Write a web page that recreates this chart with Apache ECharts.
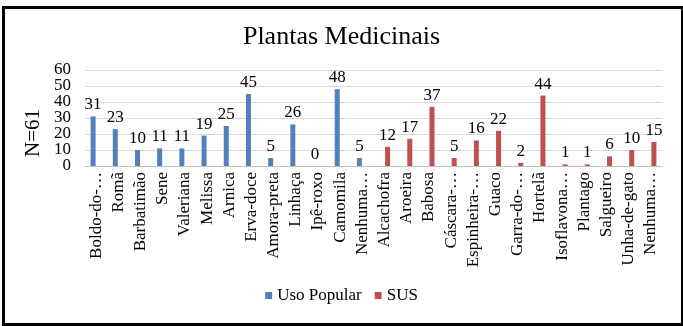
<!DOCTYPE html>
<html><head><meta charset="utf-8">
<script src="https://cdn.jsdelivr.net/npm/echarts@6/dist/echarts.min.js"></script>
<style>html,body{margin:0;padding:0;background:#fff}#c{width:683px;height:326px}</style>
</head><body><div id="c"></div>
<script>
const categories = ["Boldo-do-…","Romã","Barbatimão","Sene","Valeriana","Melissa","Arnica","Erva-doce","Amora-preta","Linhaça","Ipê-roxo","Camomila","Nenhuma…","Alcachofra","Aroeira","Babosa","Cáscara-…","Espinheira-…","Guaco","Garra-do-…","Hortelã","Isoflavona…","Plantago","Salgueiro","Unha-de-gato","Nenhuma…"];
const usoPopular = [31,23,10,11,11,19,25,45,5,26,0,48,5,null,null,null,null,null,null,null,null,null,null,null,null,null];
const sus = [null,null,null,null,null,null,null,null,null,null,null,null,null,12,17,37,5,16,22,2,44,1,1,6,10,15];
const yTicks = [0,10,20,30,40,50,60];
const font = "'Liberation Serif', serif";
const chart = echarts.init(document.getElementById('c'));
const lbl = {show:true, position:'top', color:'#000', fontFamily:font, fontSize:17, distance:3};
const yMin = yTicks[0], yMax = yTicks[yTicks.length-1];
const yBase = {type:'value', min:yMin, max:yMax, interval:10, position:'left',
  axisLine:{show:false}, axisTick:{show:false}};
chart.setOption({
  animation:false,
  textStyle:{fontFamily:font},
  title:{text:'Plantas Medicinais', left:'center', top:19, textStyle:{fontFamily:font, fontSize:26, fontWeight:'normal', color:'#000'}},
  grid:{left:85, right:21, top:70, bottom:160, containLabel:false},
  legend:{bottom:17, left:'center', itemWidth:7, itemHeight:7, itemGap:13, icon:'rect',
    textStyle:{fontFamily:font, fontSize:17, color:'#000'},
    data:['Uso Popular','SUS']},
  xAxis:{type:'category', data:categories,
    axisLine:{lineStyle:{color:'#bfbfbf'}}, axisTick:{show:false},
    axisLabel:{rotate:90, interval:0, fontFamily:font, fontSize:17, color:'#000', margin:6}},
  yAxis:[
    Object.assign({}, yBase, {splitLine:{lineStyle:{color:'#d9d9d9'}},
      axisLabel:{fontFamily:font, fontSize:17, color:'#000', margin:14, showMinLabel:true, showMaxLabel:true,
        customValues: yTicks.filter((v,i)=>i%2===0)}}),
    Object.assign({}, yBase, {splitLine:{show:false},
      axisLabel:{fontFamily:font, fontSize:17, color:'#000', margin:14,
        customValues: yTicks.filter((v,i)=>i%2===1)}})
  ],
  series:[
    {name:'Uso Popular', type:'bar', data:usoPopular, barWidth:5, barGap:'20%', itemStyle:{color:'#4F81BD'}, label:lbl},
    {name:'SUS', type:'bar', data:sus, barWidth:5, barGap:'20%', itemStyle:{color:'#C0504D'}, label:lbl}
  ],
  graphic:[
    {type:'rect', left:1, top:5, shape:{width:679, height:317}, style:{fill:'none', stroke:'#000', lineWidth:3}},
    {type:'text', x:33, y:133, rotation:Math.PI/2, style:{text:'N=61', fontFamily:font, fontSize:21, fill:'#000', align:'center', verticalAlign:'middle'}}
  ]
});
</script></body></html>
